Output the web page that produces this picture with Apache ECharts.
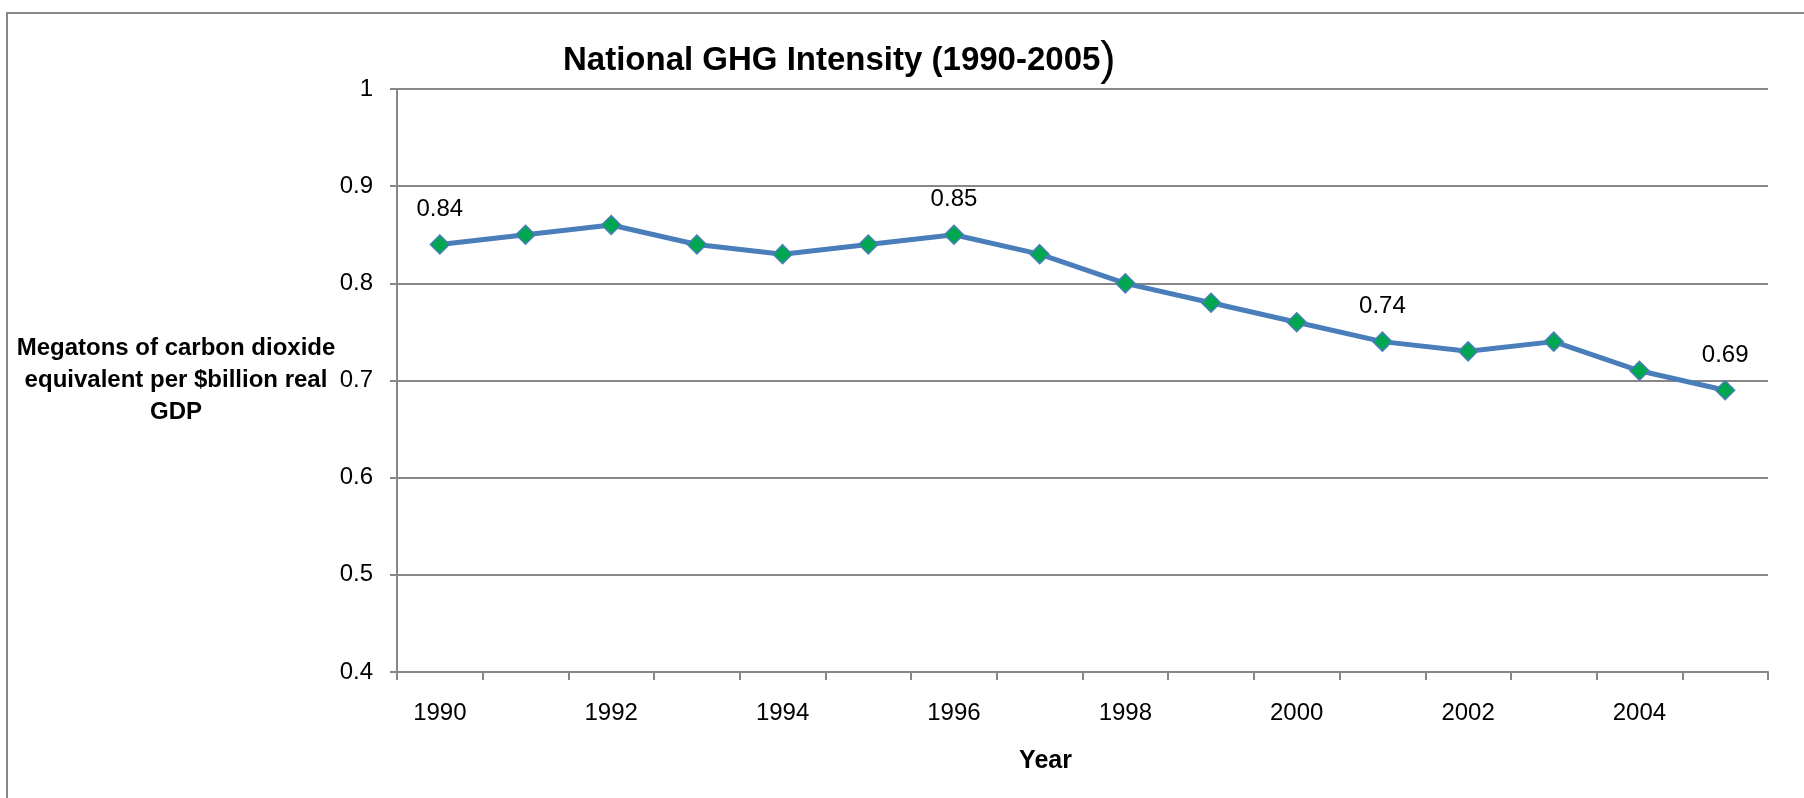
<!DOCTYPE html>
<html>
<head>
<meta charset="utf-8">
<title>National GHG Intensity (1990-2005)</title>
<script src="https://cdn.jsdelivr.net/npm/echarts@6/dist/echarts.min.js"></script>
<style>
  html, body { margin: 0; padding: 0; background: #fff; }
  #chart { width: 1804px; height: 798px; }
</style>
</head>
<body>
<div id="chart"></div>
<script>
const years = ['1990', '1991', '1992', '1993', '1994', '1995', '1996', '1997',
  '1998', '1999', '2000', '2001', '2002', '2003', '2004', '2005'];
const intensity = [0.84, 0.85, 0.86, 0.84, 0.83, 0.84, 0.85, 0.83,
  0.80, 0.78, 0.76, 0.74, 0.73, 0.74, 0.71, 0.69];
// only these points carry a value label in the original
const labelledYears = ['1990', '1996', '2001', '2005'];

const gridColor = '#878787';
const font = "'Liberation Sans', Arial, sans-serif";

const chart = echarts.init(document.getElementById('chart'));

const seriesData = intensity.map((v, i) => ({
  value: v,
  label: { show: labelledYears.includes(years[i]) }
}));

const option = {
  backgroundColor: '#fff',
  animation: false,
  textStyle: { fontFamily: font },
  title: {
    text: '{a|National GHG Intensity (1990-2005}{b|)}',
    left: 558,
    top: 33,
    textStyle: {
      rich: {
        a: { fontFamily: font, fontWeight: 'bold', fontSize: 33, color: '#000' },
        b: { fontFamily: font, fontWeight: 'normal', fontSize: 46, color: '#000' }
      }
    }
  },
  graphic: [
    { // outer chart border (cut off at right and bottom)
      type: 'rect',
      shape: { x: 7, y: 13, width: 1830, height: 820 },
      style: { fill: 'none', stroke: gridColor, lineWidth: 2 },
      silent: true
    }
  ],
  grid: {
    left: 397,
    right: 36,
    top: 89,
    bottom: 126
  },
  xAxis: {
    type: 'category',
    data: years,
    boundaryGap: true,
    name: 'Year',
    nameLocation: 'middle',
    nameGap: 77,
    nameMoveOverlap: false,
    nameTextStyle: {
      fontFamily: font, fontWeight: 'bold', fontSize: 25, color: '#000',
      padding: [0, 74, 0, 0]
    },
    axisLine: { lineStyle: { color: gridColor, width: 2 } },
    axisTick: { show: true, interval: 0, length: 8, lineStyle: { color: gridColor, width: 2 } },
    axisLabel: { interval: 1, margin: 29, fontSize: 24, color: '#000' }
  },
  yAxis: {
    type: 'value',
    min: 0.4,
    max: 1,
    interval: 0.1,
    name: 'Megatons of carbon dioxide\nequivalent per $billion real\nGDP',
    nameLocation: 'middle',
    nameRotate: 0,
    nameGap: 221,
    nameMoveOverlap: false,
    nameTextStyle: {
      fontFamily: font, fontWeight: 'bold', fontSize: 24, color: '#000',
      align: 'center', verticalAlign: 'middle', lineHeight: 32
    },
    axisLine: { show: true, lineStyle: { color: gridColor, width: 2 } },
    axisTick: { show: true, length: 7, lineStyle: { color: gridColor, width: 2 } },
    axisLabel: { margin: 24, fontSize: 24, color: '#000' },
    splitLine: { lineStyle: { color: gridColor, width: 2 } }
  },
  series: [
    {
      name: 'GHG Intensity',
      type: 'line',
      data: seriesData,
      symbol: 'diamond',
      symbolSize: 19,
      lineStyle: { color: '#4a7ebb', width: 5 },
      itemStyle: { color: '#00a650', borderColor: '#4a7ebb', borderWidth: 1.5 },
      label: {
        position: 'top',
        distance: 13,
        fontSize: 24,
        color: '#000',
        fontFamily: font
      }
    }
  ]
};
chart.setOption(option);

window.addEventListener('resize', () => chart.resize());
</script>
</body>
</html>
